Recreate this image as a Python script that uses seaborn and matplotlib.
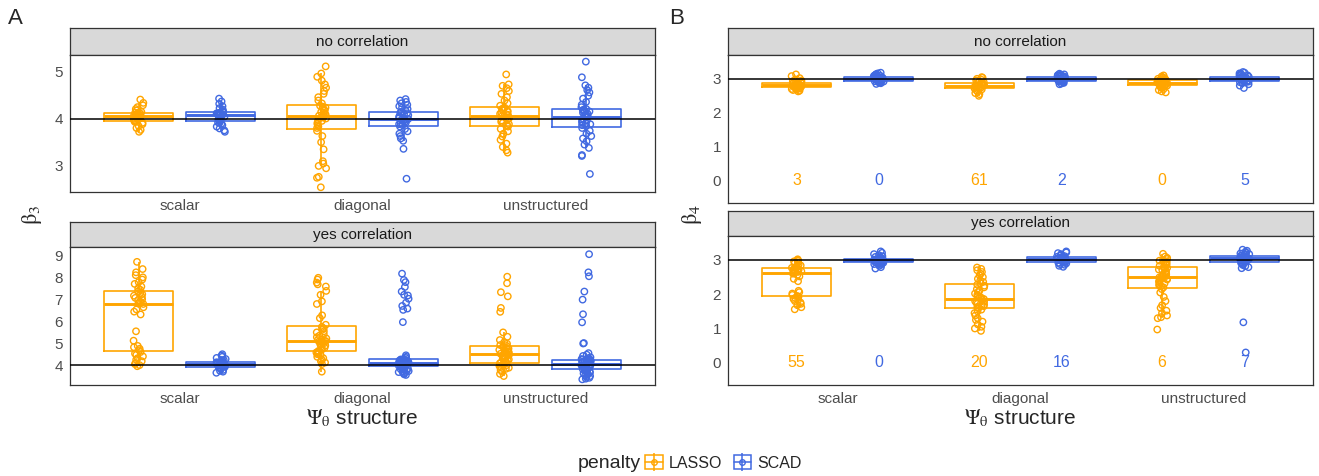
import numpy as np
import pandas as pd
import matplotlib
matplotlib.use("Agg")
import matplotlib.pyplot as plt
from matplotlib.patches import Patch
from matplotlib.lines import Line2D
from matplotlib.legend_handler import HandlerTuple
import seaborn as sns

sns.set_style("white")
plt.rcParams['font.family'] = ['Liberation Sans', 'DejaVu Sans']
plt.rcParams['mathtext.fontset'] = 'stix'

structures = ["scalar", "diagonal", "unstructured"]
penalties = ["LASSO", "SCAD"]
colors = {"LASSO": "#FFA500", "SCAD": "#4169E1"}

# ---- beta3, no correlation (true value 4)
b3_no_scalar_lasso = [3.72, 3.76, 3.80, 3.84, 3.88, 3.91, 3.93, 3.94, 3.96, 3.98, 3.99, 4.01, 4.02, 4.03,
                      4.04, 4.05, 4.05, 4.06, 4.07, 4.08, 4.09, 4.10, 4.11, 4.12, 4.13, 4.14, 4.17, 4.20,
                      4.24, 4.28, 4.33, 4.40]
b3_no_scalar_scad = [3.72, 3.75, 3.79, 3.83, 3.86, 3.89, 3.91, 3.92, 3.94, 3.96, 3.98, 4.00, 4.02, 4.04,
                     4.05, 4.07, 4.08, 4.08, 4.09, 4.10, 4.10, 4.11, 4.12, 4.12, 4.13, 4.14, 4.16, 4.19,
                     4.22, 4.26, 4.31, 4.36, 4.42]
b3_no_diagonal_lasso = [2.55, 2.75, 2.77, 2.95, 3.00, 3.05, 3.10, 3.35, 3.50, 3.63, 3.74,
                        3.80, 3.83, 3.86, 3.89, 3.92, 3.95, 3.97, 4.00, 4.02, 4.04, 4.05, 4.06, 4.08,
                        4.10, 4.12, 4.14, 4.17, 4.19, 4.21, 4.23, 4.25, 4.27,
                        4.32, 4.38, 4.45, 4.52, 4.58, 4.65, 4.72, 4.80, 4.88, 4.95, 5.10]
b3_no_diagonal_scad = [2.73, 3.36, 3.53, 3.58, 3.63, 3.68, 3.73, 3.78, 3.83,
                       3.86, 3.88, 3.90, 3.92, 3.94, 3.96, 3.97, 3.98, 3.99, 4.00, 4.01, 4.03, 4.05,
                       4.07, 4.09, 4.11, 4.12, 4.14,
                       4.17, 4.20, 4.23, 4.26, 4.29, 4.32, 4.35, 4.38, 4.41]
b3_no_unstructured_lasso = [3.28, 3.33, 3.40, 3.47, 3.55, 3.62, 3.68, 3.73, 3.78, 3.83,
                            3.86, 3.88, 3.91, 3.93, 3.96, 3.98, 4.00, 4.02, 4.04, 4.05, 4.07, 4.08,
                            4.10, 4.12, 4.14, 4.16, 4.18, 4.20, 4.22, 4.23,
                            4.27, 4.32, 4.38, 4.45, 4.52, 4.58, 4.64, 4.69, 4.72, 4.93]
b3_no_unstructured_scad = [2.83, 3.21, 3.23, 3.38, 3.45, 3.52, 3.58, 3.63, 3.68, 3.74, 3.80,
                           3.84, 3.86, 3.88, 3.90, 3.92, 3.94, 3.96, 3.98, 4.00, 4.02, 4.03, 4.04,
                           4.06, 4.08, 4.10, 4.12, 4.14, 4.15, 4.17, 4.18, 4.19, 4.20,
                           4.24, 4.29, 4.35, 4.42, 4.48, 4.55, 4.60, 4.65, 4.70, 4.87, 5.20]

# ---- beta3, yes correlation
b3_yes_scalar_lasso = [3.95, 4.00, 4.05, 4.10, 4.18, 4.25, 4.32, 4.40, 4.47, 4.53, 4.60,
                       4.68, 4.75, 4.82, 4.88, 5.12, 5.55, 6.32, 6.45, 6.55, 6.65, 6.80, 6.82, 6.85,
                       6.92, 6.98, 7.02, 7.08, 7.12, 7.18, 7.25, 7.30, 7.38,
                       7.45, 7.52, 7.60, 7.72, 7.80, 7.92, 8.02, 8.12, 8.25, 8.40, 8.73]
b3_yes_scalar_scad = [3.65, 3.70, 3.74, 3.78, 3.82, 3.85, 3.88, 3.90,
                      3.92, 3.94, 3.95, 3.97, 3.98, 4.00, 4.01, 4.02, 4.04, 4.05, 4.07, 4.08, 4.10,
                      4.11, 4.13, 4.14,
                      4.17, 4.20, 4.24, 4.28, 4.33, 4.38, 4.44, 4.50]
b3_yes_diagonal_lasso = [3.70, 4.05, 4.12, 4.18, 4.25, 4.32, 4.38, 4.45, 4.50, 4.55, 4.58, 4.61,
                         4.65, 4.70, 4.75, 4.80, 4.85, 4.90, 4.95, 5.00, 5.03, 5.06, 5.08, 5.10,
                         5.12, 5.15, 5.18, 5.22, 5.28, 5.35, 5.42, 5.50, 5.55, 5.62, 5.68, 5.75,
                         5.85, 6.15, 6.28, 6.80, 6.92, 7.22, 7.40, 7.60, 7.70, 7.78, 7.92, 8.00]
b3_yes_diagonal_scad = [3.55, 3.58, 3.62, 3.65, 3.68, 3.70, 3.73, 3.76, 3.79, 3.82, 3.85, 3.87, 3.89,
                        3.91, 3.93, 3.94,
                        3.96, 3.97, 3.98, 3.99, 4.00, 4.01, 4.02, 4.03, 4.04, 4.05, 4.06, 4.07,
                        4.08, 4.09, 4.10, 4.11, 4.13, 4.14, 4.15, 4.16, 4.17, 4.18, 4.19, 4.20,
                        4.21, 4.22, 4.23, 4.24, 4.25, 4.26, 4.27, 4.28,
                        4.33, 4.38, 4.45, 5.97, 6.53, 6.59, 6.71, 6.86, 7.04, 7.19, 7.22, 7.37,
                        7.58, 7.80, 7.90, 8.19]
b3_yes_unstructured_lasso = [3.50, 3.60, 3.70, 3.78, 3.83, 3.88, 3.92, 3.96, 4.00, 4.03, 4.06, 4.08,
                             4.12, 4.15, 4.18, 4.22, 4.26, 4.30, 4.33, 4.36, 4.40, 4.43, 4.47, 4.50,
                             4.52, 4.55, 4.58, 4.62, 4.66, 4.70, 4.73, 4.76, 4.79, 4.82, 4.85, 4.88,
                             4.92, 4.98, 5.05, 5.15, 5.30, 5.50, 6.44, 6.62, 7.15, 7.34, 7.75, 8.05]
b3_yes_unstructured_scad = [3.35, 3.38, 3.42, 3.46, 3.50, 3.54, 3.58, 3.62, 3.66, 3.69, 3.72, 3.75,
                            3.78, 3.80, 3.82,
                            3.84, 3.86, 3.88, 3.90, 3.92, 3.94, 3.96, 3.97, 3.98, 3.99, 4.00, 4.01,
                            4.02, 4.04, 4.05, 4.07, 4.08, 4.10, 4.11, 4.12, 4.14, 4.15, 4.17, 4.18,
                            4.19, 4.20, 4.22, 4.23, 4.24, 4.25,
                            4.28, 4.32, 4.36, 4.42, 4.48, 4.55, 4.99, 5.01, 5.96, 6.33, 7.00, 7.37,
                            8.07, 8.25, 9.08]

# ---- beta4, no correlation (true value 3)
b4_no_scalar_lasso = [2.63, 2.65, 2.67, 2.69, 2.70, 2.71, 2.72, 2.73,
                      2.75, 2.76, 2.77, 2.77, 2.78, 2.79, 2.80, 2.80, 2.81, 2.82, 2.83, 2.84, 2.85,
                      2.85, 2.86, 2.87,
                      2.89, 2.91, 2.93, 2.95, 2.98, 3.02, 3.08, 3.13]
b4_no_scalar_scad = [2.85, 2.87, 2.89, 2.90, 2.91, 2.92, 2.93, 2.94,
                     2.95, 2.96, 2.96, 2.97, 2.98, 2.98, 2.99, 3.00, 3.00, 3.01, 3.02, 3.02, 3.03,
                     3.04, 3.05, 3.05,
                     3.07, 3.08, 3.09, 3.10, 3.12, 3.14, 3.16, 3.18]
b4_no_diagonal_lasso = [2.50, 2.55, 2.58, 2.62, 2.66, 2.69, 2.72,
                        2.74, 2.75, 2.76, 2.77, 2.78, 2.78, 2.79, 2.80, 2.81, 2.83, 2.84, 2.86, 2.88,
                        2.90, 2.92, 2.95, 2.97, 3.00, 3.03, 3.05]
b4_no_diagonal_scad = [2.84, 2.86, 2.88, 2.90, 2.91, 2.92, 2.93, 2.94,
                       2.95, 2.96, 2.97, 2.97, 2.98, 2.99, 2.99, 3.00, 3.01, 3.01, 3.02, 3.03, 3.03,
                       3.04, 3.05, 3.06,
                       3.07, 3.08, 3.09, 3.10, 3.11, 3.12, 3.13, 3.15]
b4_no_unstructured_lasso = [2.60, 2.63, 2.67, 2.70, 2.73, 2.76, 2.78, 2.80,
                            2.82, 2.83, 2.84, 2.85, 2.86, 2.87, 2.88, 2.89, 2.89, 2.90, 2.91, 2.92,
                            2.93, 2.93, 2.94, 2.95,
                            2.96, 2.97, 2.98, 3.00, 3.02, 3.04, 3.07, 3.10]
b4_no_unstructured_scad = [2.73, 2.80, 2.84, 2.87, 2.89, 2.90, 2.91, 2.92,
                           2.94, 2.95, 2.95, 2.96, 2.97, 2.98, 2.98, 2.99, 3.00, 3.00, 3.01, 3.02,
                           3.02, 3.03, 3.04, 3.05,
                           3.06, 3.08, 3.10, 3.12, 3.14, 3.16, 3.18, 3.20]

# ---- beta4, yes correlation
b4_yes_scalar_lasso = [1.56, 1.62, 1.68, 1.72, 1.76, 1.80, 1.83, 1.86, 1.89, 1.92,
                       1.95, 1.98, 2.02, 2.06, 2.10, 2.38, 2.45, 2.52, 2.56, 2.60, 2.63, 2.65, 2.67,
                       2.69, 2.71, 2.72, 2.73, 2.74, 2.76, 2.77,
                       2.79, 2.81, 2.84, 2.87, 2.90, 2.93, 2.96, 2.98, 3.00, 3.02]
b4_yes_scalar_scad = [2.75, 2.79, 2.83, 2.86, 2.88, 2.90, 2.92, 2.93,
                      2.94, 2.95, 2.96, 2.96, 2.97, 2.98, 2.98, 2.99, 2.99, 3.00, 3.01, 3.01, 3.02,
                      3.02, 3.03, 3.04,
                      3.05, 3.07, 3.09, 3.11, 3.14, 3.17, 3.21, 3.25]
b4_yes_diagonal_lasso = [0.93, 1.00, 1.05, 1.12, 1.20, 1.25, 1.30, 1.38, 1.45, 1.50, 1.55,
                         1.60, 1.62, 1.65, 1.68, 1.70, 1.72, 1.75, 1.78, 1.80, 1.83, 1.86, 1.89,
                         1.92, 1.95, 1.98, 2.02, 2.06, 2.10, 2.15, 2.20, 2.25, 2.28,
                         2.32, 2.36, 2.40, 2.45, 2.50, 2.55, 2.60, 2.65, 2.70, 2.74, 2.78]
b4_yes_diagonal_scad = [2.80, 2.83, 2.86, 2.88, 2.90, 2.92, 2.93, 2.94,
                        2.96, 2.97, 2.98, 2.99, 3.00, 3.00, 3.01, 3.01, 3.02, 3.03, 3.04, 3.04,
                        3.05, 3.06, 3.07, 3.07,
                        3.09, 3.11, 3.13, 3.15, 3.17, 3.20, 3.22, 3.25]
b4_yes_unstructured_lasso = [0.97, 1.30, 1.33, 1.38, 1.45, 1.52, 1.60, 1.68, 1.80, 1.92, 2.05, 2.15,
                             2.20, 2.23, 2.26, 2.29, 2.32, 2.35, 2.38, 2.40, 2.43, 2.45, 2.47, 2.49,
                             2.51, 2.53, 2.56, 2.58, 2.61, 2.64, 2.67, 2.70, 2.72, 2.75, 2.77, 2.80,
                             2.83, 2.86, 2.89, 2.92, 2.94, 2.96, 2.98, 3.00, 3.03, 3.06, 3.10, 3.18]
b4_yes_unstructured_scad = [0.30, 1.18, 2.76, 2.79, 2.82, 2.85, 2.88, 2.91, 2.93,
                            2.95, 2.97, 2.99, 3.01, 3.02, 3.03, 3.04, 3.05, 3.05, 3.06, 3.06, 3.07,
                            3.08, 3.08, 3.09, 3.10, 3.10, 3.11,
                            3.12, 3.13, 3.15, 3.17, 3.19, 3.21, 3.24, 3.27, 3.30]

# number of zero estimates printed under the beta4 boxes
b4_zero_no_lasso = [3, 61, 0]
b4_zero_no_scad = [0, 2, 5]
b4_zero_yes_lasso = [55, 20, 6]
b4_zero_yes_scad = [0, 16, 7]

groups = {
    ("b3", "no", "scalar", "LASSO"): b3_no_scalar_lasso,
    ("b3", "no", "scalar", "SCAD"): b3_no_scalar_scad,
    ("b3", "no", "diagonal", "LASSO"): b3_no_diagonal_lasso,
    ("b3", "no", "diagonal", "SCAD"): b3_no_diagonal_scad,
    ("b3", "no", "unstructured", "LASSO"): b3_no_unstructured_lasso,
    ("b3", "no", "unstructured", "SCAD"): b3_no_unstructured_scad,
    ("b3", "yes", "scalar", "LASSO"): b3_yes_scalar_lasso,
    ("b3", "yes", "scalar", "SCAD"): b3_yes_scalar_scad,
    ("b3", "yes", "diagonal", "LASSO"): b3_yes_diagonal_lasso,
    ("b3", "yes", "diagonal", "SCAD"): b3_yes_diagonal_scad,
    ("b3", "yes", "unstructured", "LASSO"): b3_yes_unstructured_lasso,
    ("b3", "yes", "unstructured", "SCAD"): b3_yes_unstructured_scad,
    ("b4", "no", "scalar", "LASSO"): b4_no_scalar_lasso,
    ("b4", "no", "scalar", "SCAD"): b4_no_scalar_scad,
    ("b4", "no", "diagonal", "LASSO"): b4_no_diagonal_lasso,
    ("b4", "no", "diagonal", "SCAD"): b4_no_diagonal_scad,
    ("b4", "no", "unstructured", "LASSO"): b4_no_unstructured_lasso,
    ("b4", "no", "unstructured", "SCAD"): b4_no_unstructured_scad,
    ("b4", "yes", "scalar", "LASSO"): b4_yes_scalar_lasso,
    ("b4", "yes", "scalar", "SCAD"): b4_yes_scalar_scad,
    ("b4", "yes", "diagonal", "LASSO"): b4_yes_diagonal_lasso,
    ("b4", "yes", "diagonal", "SCAD"): b4_yes_diagonal_scad,
    ("b4", "yes", "unstructured", "LASSO"): b4_yes_unstructured_lasso,
    ("b4", "yes", "unstructured", "SCAD"): b4_yes_unstructured_scad,
}
rows = []
for (coef, corr, struct, pen), vals in groups.items():
    for v in vals:
        rows.append((coef, corr, struct, pen, v))
df = pd.DataFrame(rows, columns=["coef", "corr", "structure", "penalty", "value"])

np.random.seed(3)

W, H = 1319, 476
fig = plt.figure(figsize=(W / 100, H / 100), dpi=100)


def box(x0, y0, x1, y1):
    # pixel rectangle (top-left origin) -> figure fraction
    return [x0 / W, 1 - y1 / H, (x1 - x0) / W, (y1 - y0) / H]


def draw_facet(xs, strip_y, plot_y, sub, title, ylim, yticks, ref, counts=None, xlabels=True):
    st = fig.add_axes(box(xs[0], strip_y[0], xs[1], strip_y[1]))
    st.set_facecolor("#D9D9D9")
    st.set_xticks([])
    st.set_yticks([])
    for s in st.spines.values():
        s.set_color("#333333")
        s.set_linewidth(0.9)
    st.text(0.5, 0.5, title, ha="center", va="center", fontsize=11, color="#1A1A1A",
            transform=st.transAxes)

    ax = fig.add_axes(box(xs[0], plot_y[0], xs[1], plot_y[1]))
    sns.boxplot(data=sub, x="structure", y="value", hue="penalty", order=structures,
                hue_order=penalties, palette=colors, saturation=1, fill=False, width=0.9,
                gap=0.16, showfliers=False, showcaps=False, linewidth=1.2,
                medianprops={"linewidth": 2.1}, legend=False, ax=ax)
    n0 = len(ax.collections)
    sns.stripplot(data=sub, x="structure", y="value", hue="penalty", order=structures,
                  hue_order=penalties, palette=colors, dodge=True, jitter=0.055, size=4.6,
                  legend=False, ax=ax)
    for coll in ax.collections[n0:]:
        off = coll.get_offsets()
        if len(off) == 0:
            continue
        mx = off[:, 0].mean()
        off[:, 0] += 0.025 if mx > round(mx) else -0.025
        coll.set_offsets(off)
        fc = coll.get_facecolors()
        coll.set_edgecolors(fc)
        coll.set_facecolors("none")
        coll.set_linewidths(1.0)
        coll.set_zorder(3)
    ax.axhline(ref, color="black", lw=1.1, zorder=5)

    if counts is not None:
        for i in range(len(structures)):
            ax.text(i - 0.225, 0, str(counts[0][i]), color=colors["LASSO"], ha="center",
                    va="center", fontsize=11.5)
            ax.text(i + 0.225, 0, str(counts[1][i]), color=colors["SCAD"], ha="center",
                    va="center", fontsize=11.5)

    ax.set_xlim(-0.6, 2.6)
    ax.set_ylim(ylim)
    ax.set_yticks(yticks)
    ax.set_xlabel("")
    ax.set_ylabel("")
    ax.tick_params(axis="both", length=3, width=0.8, color="#333333", labelsize=11,
                   labelcolor="#4D4D4D", pad=2)
    if not xlabels:
        ax.set_xticklabels([])
        ax.tick_params(axis="x", length=0)
    for s in ax.spines.values():
        s.set_color("#333333")
        s.set_linewidth(0.9)
    return ax


a_x = (70, 655)
b_x = (728, 1313)
sel = lambda c, r: df[(df["coef"] == c) & (df["corr"] == r)]

draw_facet(a_x, (28, 55), (55, 192), sel("b3", "no"), "no correlation", (2.45, 5.34), [3, 4, 5], 4)
draw_facet(a_x, (222, 247), (247, 385), sel("b3", "yes"), "yes correlation", (3.09, 9.41),
           [4, 5, 6, 7, 8, 9], 4)
draw_facet(b_x, (28, 55), (55, 203), sel("b4", "no"), "no correlation", (-0.65, 3.70), [0, 1, 2, 3], 3,
           counts=(b4_zero_no_lasso, b4_zero_no_scad), xlabels=False)
draw_facet(b_x, (211, 236), (236, 385), sel("b4", "yes"), "yes correlation", (-0.65, 3.70),
           [0, 1, 2, 3], 3, counts=(b4_zero_yes_lasso, b4_zero_yes_scad))

fig.text(15 / W, 1 - 18 / H, "A", ha="center", va="center", fontsize=16)
fig.text(677 / W, 1 - 18 / H, "B", ha="center", va="center", fontsize=16)
fig.text(32 / W, 1 - 215 / H, r"$\mathrm{\beta}_3$", rotation=90, ha="center", va="center", fontsize=16)
fig.text(692 / W, 1 - 215 / H, r"$\mathrm{\beta}_4$", rotation=90, ha="center", va="center", fontsize=16)
fig.text(362 / W, 1 - 418 / H, r"$\Psi_\mathrm{\theta}$ structure", ha="center", va="center", fontsize=15)
fig.text(1020 / W, 1 - 418 / H, r"$\Psi_\mathrm{\theta}$ structure", ha="center", va="center", fontsize=15)

# legend: title on the left, boxplot-like keys
fig.text(641 / W, 1 - 463 / H, "penalty", ha="right", va="center", fontsize=14)
handles = []
for p in penalties:
    c = colors[p]
    handles.append((Patch(facecolor="white", edgecolor=c, linewidth=1.1),
                    Line2D([], [], color=c, lw=1.1, marker="|", markersize=13, markeredgewidth=1.1),
                    Line2D([], [], ls="", marker="o", mfc="none", mec=c, markersize=4)))
fig.legend(handles, penalties, handler_map={tuple: HandlerTuple(ndivide=1)}, ncol=2,
           loc="center left", bbox_to_anchor=(645 / W, 1 - 463 / H), frameon=False, fontsize=11.5,
           handlelength=1.1, handleheight=0.9, handletextpad=0.4, columnspacing=0.7,
           borderpad=0, borderaxespad=0)

fig.savefig("out.png", dpi=100)
